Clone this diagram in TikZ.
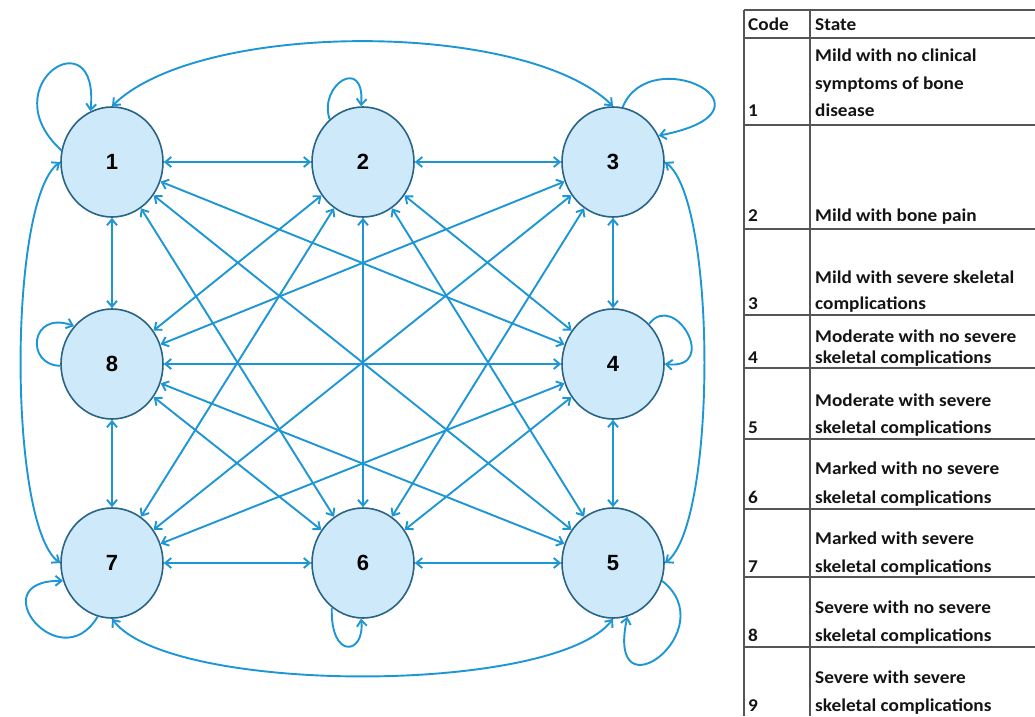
\documentclass[tikz,border=0pt]{standalone}
\usepackage{fontspec}
\setmainfont{Carlito}[FakeStretch=1.07]
\newfontfamily\numfont{Liberation Sans}
\usetikzlibrary{arrows.meta,shapes.geometric}
\definecolor{edgeblue}{RGB}{28,150,212}
\definecolor{nodefill}{RGB}{206,234,250}
\definecolor{nodeborder}{RGB}{40,100,135}
\definecolor{rulegray}{RGB}{85,85,85}
\definecolor{textdark}{RGB}{20,20,20}
\begin{document}
\begin{tikzpicture}[x=1pt,y=-1pt,
  state/.style={ellipse, draw=nodeborder, fill=nodefill, line width=1.6pt,
    minimum width=102pt, minimum height=110pt, inner sep=0pt,
    font=\numfont\bfseries\fontsize{22}{22}\selectfont},
  tip/.tip={Straight Barb[length=6pt,width=10pt]},
  link/.style={draw=edgeblue, line width=1.9pt, tip-tip},
  selfloop/.style={draw=edgeblue, line width=1.9pt, -tip},
  cell/.style={anchor=base west, inner sep=0pt, text=textdark,
    font=\bfseries\fontsize{18}{18}\selectfont},
  rule/.style={draw=rulegray, line width=1.6pt}]
\useasboundingbox (0,0) rectangle (1035,716);

% states
\node[state] (n1) at (112,162) {1};
\node[state] (n2) at (363,162) {2};
\node[state] (n3) at (613,162) {3};
\node[state] (n8) at (112,364) {8};
\node[state] (n4) at (613,364) {4};
\node[state] (n7) at (112,563) {7};
\node[state] (n6) at (363,563) {6};
\node[state] (n5) at (613,563) {5};

% straight transitions
\draw[link] (n1) -- (n2);
\draw[link] (n2) -- (n3);
\draw[link] (n8) -- (n4);
\draw[link] (n7) -- (n6);
\draw[link] (n6) -- (n5);
\draw[link] (n1) -- (n8);
\draw[link] (n8) -- (n7);
\draw[link] (n3) -- (n4);
\draw[link] (n4) -- (n5);
\draw[link] (n2) -- (n6);
\draw[link] (n1) -- (n5);
\draw[link] (n3) -- (n7);
\draw[link] (n1) -- (n4);
\draw[link] (n1) -- (n6);
\draw[link] (n3) -- (n8);
\draw[link] (n3) -- (n6);
\draw[link] (n7) -- (n2);
\draw[link] (n7) -- (n4);
\draw[link] (n5) -- (n2);
\draw[link] (n5) -- (n8);
\draw[link] (n2) -- (n8);
\draw[link] (n2) -- (n4);
\draw[link] (n6) -- (n8);
\draw[link] (n6) -- (n4);

% curved transitions around the outside
\draw[link] (n1.north) .. controls (200,20) and (525,20) .. (n3.north);
\draw[link] (n1.west) .. controls (8,200) and (8,525) .. (n7.west);
\draw[link] (n3.east) .. controls (717,200) and (717,525) .. (n5.east);
\draw[link] (n7.south) .. controls (170,695) and (555,695) .. (n5.south);

% self loops
\draw[selfloop] (n1.167) .. controls (-10,85) and (100,15) .. (n1.113);
\draw[selfloop] (n2.128) .. controls (318,85) and (365,55) .. (n2.92);
\draw[selfloop] (n3.80) .. controls (650,40) and (790,110) .. (n3.30);
\draw[selfloop] (n4.48) .. controls (675,290) and (720,370) .. (n4.0);
\draw[selfloop] (n8.182) .. controls (25,365) and (30,310) .. (n8.135);
\draw[selfloop] (n7.255) .. controls (60,680) and (-20,580) .. (n7.200);
\draw[selfloop] (n6.235) .. controls (330,660) and (365,655) .. (n6.268);
\draw[selfloop] (n5.340) .. controls (725,630) and (605,720) .. (n5.285);

% table
\foreach \yy in {10,38,125,229,315,368,439,509,577,647}
  \draw[rule] (744,\yy) -- (1035,\yy);
\draw[rule] (744,10) -- (744,716);
\draw[rule] (810,10) -- (810,716);

\node[cell] (hc) at (748,30) {Code};
\node[cell] (hs) at (815,30) {State};

\node[cell] (c1) at (748,116) {1};
\node[cell] (s1a) at (815,61) {Mild with no clinical};
\node[cell] (s1b) at (815,89) {symptoms of bone};
\node[cell] (s1c) at (815,116) {disease};

\node[cell] (c2) at (748,221) {2};
\node[cell] (s2a) at (815,221) {Mild with bone pain};

\node[cell] (c3) at (748,309) {3};
\node[cell] (s3a) at (815,283) {Mild with severe skeletal};
\node[cell] (s3b) at (815,309) {complications};

\node[cell] (c4) at (748,363) {4};
\node[cell] (s4a) at (815,342) {Moderate with no severe};
\node[cell] (s4b) at (815,363) {skeletal complications};

\node[cell] (c5) at (748,433) {5};
\node[cell] (s5a) at (815,406) {Moderate with severe};
\node[cell] (s5b) at (815,433) {skeletal complications};

\node[cell] (c6) at (748,503) {6};
\node[cell] (s6a) at (815,474) {Marked with no severe};
\node[cell] (s6b) at (815,503) {skeletal complications};

\node[cell] (c7) at (748,572) {7};
\node[cell] (s7a) at (815,544) {Marked with severe};
\node[cell] (s7b) at (815,572) {skeletal complications};

\node[cell] (c8) at (748,641) {8};
\node[cell] (s8a) at (815,613) {Severe with no severe};
\node[cell] (s8b) at (815,641) {skeletal complications};

\node[cell] (c9) at (748,711) {9};
\node[cell] (s9a) at (815,683) {Severe with severe};
\node[cell] (s9b) at (815,711) {skeletal complications};
\end{tikzpicture}
\end{document}
